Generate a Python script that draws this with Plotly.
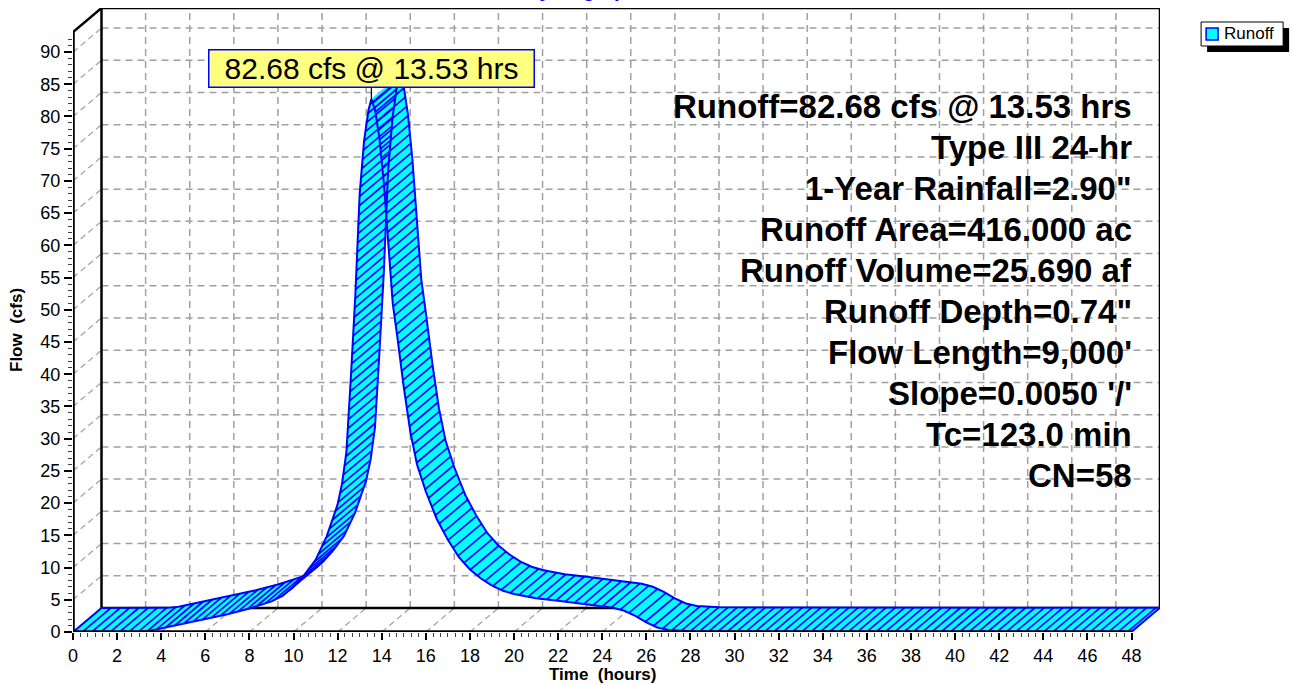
import numpy as np
import plotly.graph_objects as go

# ---------------- data ----------------
time_hr = [0, 1, 2, 3, 3.5, 4, 5, 6, 7, 8, 8.5, 9, 9.5, 10, 10.5, 11, 11.5, 12,
           12.2, 12.4, 12.6, 12.8, 13.0, 13.2, 13.4, 13.53, 13.7, 13.9, 14.1,
           14.3, 14.5, 14.7, 15.0, 15.3, 15.6, 16.0, 16.5, 17.0, 17.5, 18.0,
           18.5, 19.0, 19.5, 20.0, 21.0, 22.0, 23.0, 24.0, 24.5, 25.0, 25.5,
           26.0, 26.5, 27.0, 27.5, 28.0, 30.0, 35.0, 40.0, 45.0, 48.0]
flow_cfs = [0, 0, 0, 0.02, 0.2, 0.55, 1.3, 2.0, 2.75, 3.65, 4.15, 4.75, 5.6, 7.0,
            8.9, 11.2, 14.8, 19.8, 23.0, 28.0, 39.5, 52.0, 68.0, 76.2, 81.0,
            82.68, 81.0, 76.5, 69.5, 60.0, 51.0, 46.0, 38.0, 31.0, 26.0, 21.8,
            17.5, 14.3, 11.6, 9.7, 8.3, 7.2, 6.4, 5.9, 5.25, 4.85, 4.4, 3.95,
            3.75, 3.3, 2.5, 1.5, 0.7, 0.3, 0.15, 0.1, 0.07, 0.05, 0.04, 0.03, 0.03]
x_ticks = list(range(0, 49, 2))
y_ticks = list(range(0, 91, 5))
peak_time = 13.53
peak_flow = 82.68
peak_label = "82.68 cfs @ 13.53 hrs"
series_name = "Runoff"
title_text = "Hydrograph"
x_title = "Time\u00a0\u00a0(hours)"
y_title = "Flow\u00a0\u00a0(cfs)"
info_lines = [
    "Runoff=82.68 cfs @ 13.53 hrs",
    "Type III 24-hr",
    "1-Year Rainfall=2.90\"",
    "Runoff Area=416.000 ac",
    "Runoff Volume=25.690 af",
    "Runoff Depth=0.74\"",
    "Flow Length=9,000'",
    "Slope=0.0050 '/'",
    "Tc=123.0 min",
    "CN=58",
]

# ---------------- geometry / style ----------------
W, H = 1294, 685
X0PX, Y0PX = 73, 632          # pixel position of (0, 0) on the front plane
PXH = 22.05                   # pixels per hour
PXC = 6.444                   # pixels per cfs
DXP, DYP = 28.5, 24.0         # depth offset of the back plane (px)
DX, DY = DXP / PXH, DYP / PXC  # same offset in data units
X_END = 48
Y_TOP = 93.1
ML, MT = X0PX, 8
MR = W - (X0PX + X_END * PXH + DXP)
MB = H - Y0PX
plot_w = W - ML - MR
plot_h = H - MT - MB
xr = [0, plot_w / PXH]
yr = [0, plot_h / PXC]

BLUE = "#0000FF"
CYAN = "#00FFFF"
GRID = "#A0A0A0"
FONT = "Liberation Sans, Arial, sans-serif"


def pxx(px):
    return (px - ML) / plot_w


def pxy(py):
    return (H - MB - py) / plot_h


fig = go.Figure()

# ---------------- ribbon fill (quads between front and back curve) -------
t = np.array(time_hr, dtype=float)
q = np.array(flow_cfs, dtype=float)
qx, qy = [], []
for i in range(len(t) - 1):
    xs = [t[i], t[i + 1], t[i + 1] + DX, t[i] + DX]
    ys = [q[i], q[i + 1], q[i + 1] + DY, q[i] + DY]
    area = sum(xs[k] * ys[(k + 1) % 4] - xs[(k + 1) % 4] * ys[k] for k in range(4))
    if area < 0:          # keep one winding so overlaps stay filled
        xs, ys = xs[::-1], ys[::-1]
    qx += xs + [xs[0], None]
    qy += ys + [ys[0], None]
fig.add_trace(go.Scatter(x=qx, y=qy, mode="lines", fill="toself",
                         fillcolor=CYAN, line=dict(width=0.6, color=CYAN),
                         hoverinfo="skip", showlegend=False))

# ---------------- hatch lines (parallel to depth direction) -------------
tp, qp = t * PXH, q * PXC
cum = np.concatenate([[0], np.cumsum(np.hypot(np.diff(tp), np.diff(qp)))])
s = np.arange(9.3, cum[-1], 9.3)
ht = np.interp(s, cum, t)
hq = np.interp(s, cum, q)
hx, hy = [], []
for a, b in zip(ht, hq):
    hx += [a, a + DX, None]
    hy += [b, b + DY, None]
fig.add_trace(go.Scatter(x=hx, y=hy, mode="lines",
                         line=dict(width=1.7, color=BLUE),
                         hoverinfo="skip", showlegend=False))

# ---------------- outlines ---------------------------------------------
ox = list(t) + [None] + list(t + DX) + [None, t[0], t[0] + DX, None, t[-1], t[-1] + DX]
oy = list(q) + [None] + list(q + DY) + [None, q[0], q[0] + DY, None, q[-1], q[-1] + DY]
fig.add_trace(go.Scatter(x=ox, y=oy, mode="lines", name=series_name,
                         line=dict(width=2, color=BLUE),
                         hoverinfo="skip", showlegend=False))

# ---------------- frame & grid (shapes) ---------------------------------
shapes = []
dash = "7px,5px"
for v in x_ticks[1:-1]:
    shapes.append(dict(type="line", xref="x", yref="y", layer="below",
                       x0=v + DX, x1=v + DX, y0=DY, y1=Y_TOP + DY,
                       line=dict(color=GRID, width=1.5, dash=dash)))
for v in x_ticks[1:]:
    shapes.append(dict(type="line", xref="x", yref="y", layer="below",
                       x0=v, x1=v + DX, y0=0, y1=DY,
                       line=dict(color=GRID, width=1.2, dash="6px,4px")))
for v in y_ticks[1:]:
    shapes.append(dict(type="line", xref="x", yref="y", layer="below",
                       x0=DX, x1=X_END + DX, y0=v + DY, y1=v + DY,
                       line=dict(color=GRID, width=1.5, dash=dash)))
    shapes.append(dict(type="line", xref="x", yref="y", layer="below",
                       x0=0, x1=DX, y0=v, y1=v + DY,
                       line=dict(color=GRID, width=1.2, dash="6px,4px")))
# back frame
shapes.append(dict(type="path", xref="x", yref="y", layer="below",
                   path=f"M {DX},{DY} L {DX},{Y_TOP + DY} L {X_END + DX},{Y_TOP + DY} L {X_END + DX},{DY} Z",
                   line=dict(color="black", width=2.5)))
shapes.append(dict(type="line", xref="x", yref="y", layer="below",
                   x0=0, x1=DX, y0=Y_TOP, y1=Y_TOP + DY,
                   line=dict(color="black", width=2.5)))
# front axes
shapes.append(dict(type="line", xref="x", yref="y", layer="above",
                   x0=0, x1=0, y0=0, y1=Y_TOP, line=dict(color="black", width=3.5)))
shapes.append(dict(type="line", xref="x", yref="y", layer="above",
                   x0=0, x1=X_END, y0=0, y1=0, line=dict(color="black", width=3.5)))

# legend box
lx0, ly0, lx1, ly1 = 1201, 22, 1283, 46
shapes.append(dict(type="rect", xref="paper", yref="paper",
                   x0=pxx(lx0 + 6), x1=pxx(lx1 + 6), y0=pxy(ly0 + 6), y1=pxy(ly1 + 6),
                   fillcolor="black", line=dict(width=0)))
shapes.append(dict(type="rect", xref="paper", yref="paper",
                   x0=pxx(lx0), x1=pxx(lx1), y0=pxy(ly0), y1=pxy(ly1),
                   fillcolor="white", line=dict(color="black", width=1)))
shapes.append(dict(type="rect", xref="paper", yref="paper",
                   x0=pxx(1206), x1=pxx(1218), y0=pxy(28), y1=pxy(40),
                   fillcolor=CYAN, line=dict(color=BLUE, width=1.5)))

# ---------------- annotations ------------------------------------------
ann = []
ann.append(dict(xref="paper", yref="paper", x=pxx(1222), y=pxy(34),
                xanchor="left", yanchor="middle", showarrow=False,
                text=series_name, font=dict(family=FONT, size=17, color="black")))
ann.append(dict(xref="paper", yref="paper", x=pxx(581), y=pxy(3),
                xanchor="center", yanchor="bottom", showarrow=False,
                text="<b>" + title_text + "</b>",
                font=dict(family=FONT, size=20, color=BLUE)))
ann.append(dict(xref="paper", yref="paper", x=pxx(602), y=pxy(674),
                xanchor="center", yanchor="middle", showarrow=False,
                text="<b>" + x_title + "</b>",
                font=dict(family=FONT, size=17, color="black")))
ann.append(dict(xref="paper", yref="paper", x=pxx(17), y=pxy(330),
                xanchor="center", yanchor="middle", showarrow=False,
                textangle=-90, text="<b>" + y_title + "</b>",
                font=dict(family=FONT, size=17, color="black")))
ann.append(dict(xref="x", yref="y", x=peak_time, y=peak_flow,
                showarrow=True, arrowhead=0, arrowwidth=1.2, arrowcolor="black",
                ax=0, ay=-30.5, text=peak_label, bgcolor="#FFFF80",
                bordercolor=BLUE, borderwidth=1.5, width=322, height=34,
                font=dict(family=FONT, size=30, color="black")))
for k, line in enumerate(info_lines):
    ann.append(dict(xref="paper", yref="paper", x=pxx(1134), y=pxy(106 + 41.1 * k),
                    xanchor="right", yanchor="middle", showarrow=False,
                    text="<b>" + line + "</b>",
                    font=dict(family=FONT, size=33, color="black")))

x_minor = [v / 3 for v in range(0, 3 * X_END + 1) if v % 6 != 0]
y_minor = [v for v in range(0, 93) if v % 5 != 0]

fig.update_layout(
    width=W, height=H, autosize=False,
    margin=dict(l=ML, r=MR, t=MT, b=MB, pad=0),
    paper_bgcolor="white", plot_bgcolor="white",
    showlegend=False, shapes=shapes, annotations=ann,
    font=dict(family=FONT, color="black"),
    xaxis=dict(range=xr, showgrid=False, zeroline=False, showline=False,
               tickmode="array", tickvals=x_ticks, ticks="outside", ticklen=7,
               tickwidth=1.5, tickcolor="black",
               tickfont=dict(family=FONT, size=18, color="black"),
               minor=dict(tickvals=x_minor, ticks="outside", ticklen=4,
                          tickwidth=1, tickcolor="#404040", showgrid=False)),
    yaxis=dict(range=yr, showgrid=False, zeroline=False, showline=False,
               tickmode="array", tickvals=y_ticks, ticks="outside", ticklen=8,
               tickwidth=1.5, tickcolor="black",
               tickfont=dict(family=FONT, size=18, color="black"),
               minor=dict(tickvals=y_minor, ticks="outside", ticklen=4,
                          tickwidth=1, tickcolor="#404040", showgrid=False)),
)

fig.write_html("out.html")
